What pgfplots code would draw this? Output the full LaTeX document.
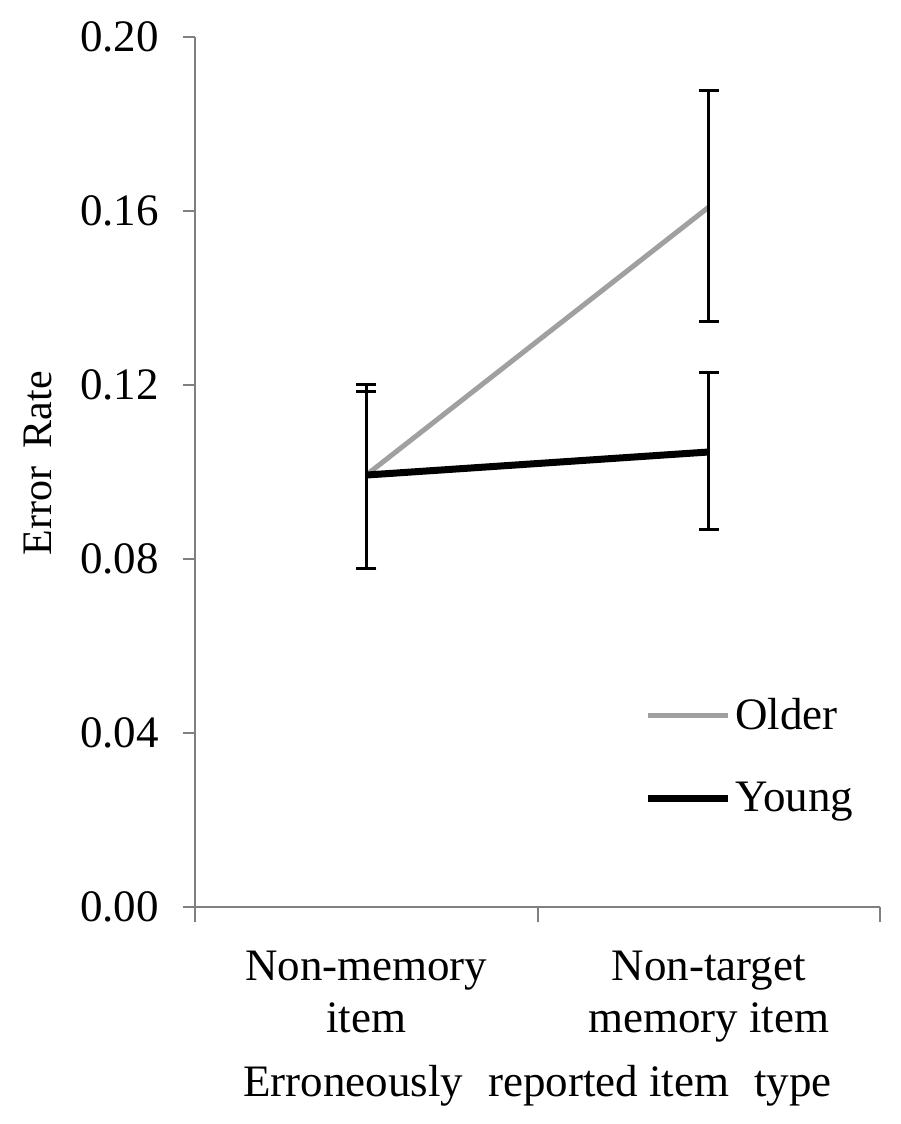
\documentclass[border=0pt]{standalone}
\usepackage{fontspec}
\setmainfont{Liberation Serif}
\usepackage{pgfplots}
\pgfplotsset{compat=1.18}
\definecolor{oldgray}{RGB}{160,160,160}
\definecolor{axgray}{RGB}{128,128,128}
\newcommand{\bigf}{\fontsize{22.5}{26}\selectfont}
\begin{document}
\begin{tikzpicture}
\begin{axis}[
  at={(0,0)}, anchor=south west,
  scale only axis, width=342.5pt, height=435pt,
  xmin=-0.5, xmax=1.5, ymin=0, ymax=0.2,
  axis x line*=bottom, axis y line*=left,
  axis line style={axgray, line width=1pt, -},
  tick align=outside,
  xtick={0,1},
  xticklabels={{Non-memory\\item},{Non-target\\memory item}},
  major x tick style={draw=none},
  minor xtick={-0.5,0.5,1.5},
  minor tick length=7.5pt,
  major tick length=6pt,
  tick style={axgray, line width=1pt},
  ytick={0,0.04,0.08,0.12,0.16,0.2},
  yticklabel style={/pgf/number format/.cd, fixed, fixed zerofill, precision=2, assume math mode=true, /tikz/.cd, xshift=-8.5pt},
  ticklabel style={font=\bigf},
  xticklabel style={align=center, font=\bigf, yshift=-12.5pt},
  xlabel={Erroneously\hspace{0.3em} reported item\hspace{0.3em} type},
  xlabel style={font=\bigf, at={(axis description cs:0.5,-0.205)}, anchor=center},
  ylabel={Error\hspace{0.2em} Rate},
  ylabel style={font=\fontsize{21}{24}\selectfont, at={(axis description cs:-0.229,0.51)}, anchor=center},
  legend style={at={(rel axis cs:0.655,0.173)}, anchor=west, draw=none, fill=none, inner sep=0pt,
    font=\bigf, row sep=21pt, cells={anchor=west}},
  legend image code/.code={\draw[#1] (0pt,0pt) -- (40pt,0pt);},
  /tikz/every odd column/.append style={column sep=0pt},
  error bars/error bar style={black, line width=1.5pt, solid},
  error bars/error mark options={rotate=90, mark size=5pt, line width=1.5pt, black},
  clip=false,
]
\addplot[oldgray, line width=2.5pt, no marks, error bars/.cd, y dir=both, y explicit]
  coordinates {
    (0,0.0993) += (0,0.0209) -= (0,0.0214)
    (1,0.1609) += (0,0.0267) -= (0,0.0264)
  };
\addlegendentry{Older}
\addplot[black, line width=3.5pt, no marks, error bars/.cd, y dir=both, y explicit]
  coordinates {
    (0,0.0993) += (0,0.0193) -= (0,0.0214)
    (1,0.1046) += (0,0.0182) -= (0,0.0179)
  };
\addlegendentry{Young}
\end{axis}
\pgfresetboundingbox
\useasboundingbox (-97.5pt,-108.5pt) rectangle (352.5pt,453.5pt);
\end{tikzpicture}
\end{document}
